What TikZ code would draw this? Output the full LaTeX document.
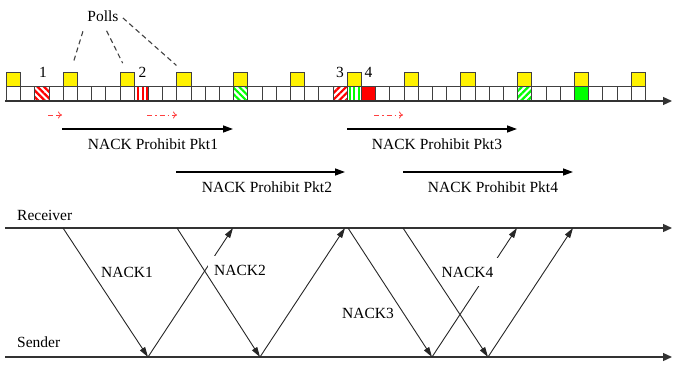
\documentclass[tikz,border=0pt]{standalone}
\usepackage{fontspec}
\setmainfont{Liberation Serif}
\usetikzlibrary{arrows.meta,patterns.meta}

\tikzset{
  slot/.style={draw=black!75, line width=0.9pt, minimum width=14.2pt, minimum height=14pt, inner sep=0pt, anchor=south west},
  pollbox/.style={slot, fill=yellow},
  slotmark/.style={slot, anchor=center},
  hatch/.style n args={2}{pattern={Lines[angle=#1,distance=4.6pt,line width=2.2pt]}, pattern color=#2},
  axis/.style={draw=black!80, line width=1.3pt, -{Triangle[length=9pt,width=8pt]}},
  msg/.style={draw=black!85, line width=0.9pt, -{Triangle[length=10pt,width=6pt]}},
  window/.style={line width=1.3pt, -{Triangle[length=10pt,width=7pt]}},
  timer/.style={draw=red!75, line width=0.8pt, -{To[length=4pt,width=7pt]}},
  txt/.style={font=\fontsize{15.5}{18}\selectfont, inner sep=2pt},
  nack/.style={txt, fill=white, inner xsep=6pt, inner ysep=9pt},
  poll line/.style={draw=black!75, line width=1.1pt, dash pattern=on 5pt off 3.5pt, shorten <=8pt, shorten >=10pt},
}

\begin{document}
\begin{tikzpicture}[x=1pt,y=1pt]
	%%%%% START %%%%%
	\useasboundingbox (0,0) rectangle (673,368);
	
	% slot row
	\foreach \i in {0,...,44}
		\node[slot] (c\i) at ({6+14.2*\i},267) {};
	\node[slotmark, hatch={-45}{red}] at (c2) {};
	\node[slotmark, hatch={90}{red}] at (c9) {};
	\node[slotmark, hatch={-45}{green}] at (c16) {};
	\node[slotmark, hatch={45}{red}] at (c23) {};
	\node[slotmark, hatch={90}{green}] at (c24) {};
	\node[slotmark, fill=red] at (c25) {};
	\node[slotmark, hatch={45}{green}] at (c36) {};
	\node[slotmark, fill=green] at (c40) {};
	
	\foreach \j in {0,...,11}
		\node[pollbox] (p\j) at ({6+56.8*\j},281) {};
	
	\coordinate (t0) at (5,267);
	\coordinate (t1) at (672,267);
	\draw[axis] (t0) -- (t1);
	
	\node[txt] (n1) at (43,295.5) {1};
	\node[txt] (n2) at (142.5,295.5) {2};
	\node[txt] (n3) at (340,295.5) {3};
	\node[txt] (n4) at (368.5,295.5) {4};
	
	% polls
	\node[txt] (polls) at (103,352) {Polls};
	\draw[poll line] (polls.south west) -- (p1.north);
	\draw[poll line] (polls.south) -- (p2.north);
	\draw[poll line, shorten <=3pt] (polls.east) -- (p3.north);
	
	% timers
	\coordinate (d1a) at (48,253);
	\coordinate (d1b) at (62,253);
	\coordinate (d2a) at (147,253);
	\coordinate (d2b) at (177,253);
	\coordinate (d3a) at (374,253);
	\coordinate (d3b) at (403,253);
	\draw[timer, dash pattern=on 5pt off 3pt] (d1a) -- (d1b);
	\draw[timer, dash pattern=on 5pt off 3pt on 1.5pt off 3pt] (d2a) -- (d2b);
	\draw[timer, dash pattern=on 5pt off 3pt on 1.5pt off 3pt] (d3a) -- (d3b);
	
	% prohibit windows
	\coordinate (w1a) at (62,239);
	\coordinate (w1b) at (233,239);
	\coordinate (w2a) at (176,196);
	\coordinate (w2b) at (345,196);
	\coordinate (w3a) at (347,239);
	\coordinate (w3b) at (517,239);
	\coordinate (w4a) at (403,196);
	\coordinate (w4b) at (573,196);
	\draw[window] (w1a) -- (w1b);
	\draw[window] (w2a) -- (w2b);
	\draw[window] (w3a) -- (w3b);
	\draw[window] (w4a) -- (w4b);
	\node[txt] (w1) at (153,224) {NACK Prohibit Pkt1};
	\node[txt] (w2) at (267,181) {NACK Prohibit Pkt2};
	\node[txt] (w3) at (437,224) {NACK Prohibit Pkt3};
	\node[txt] (w4) at (493,181) {NACK Prohibit Pkt4};
	
	% receiver and sender
	\coordinate (rx0) at (5,140);
	\coordinate (rx1) at (672,140);
	\coordinate (sx0) at (5,11);
	\coordinate (sx1) at (672,11);
	\draw[axis] (rx0) -- (rx1);
	\draw[axis] (sx0) -- (sx1);
	\node[txt, anchor=west, inner sep=0pt] (rcv) at (17,153) {Receiver};
	\node[txt, anchor=west, inner sep=0pt] (snd) at (17,26) {Sender};
	
	\coordinate (ra) at (63,140);
	\coordinate (rb) at (233,140);
	\coordinate (rc) at (177,140);
	\coordinate (rd) at (345,140);
	\coordinate (re) at (348,140);
	\coordinate (rf) at (517,140);
	\coordinate (rg) at (403,140);
	\coordinate (rh) at (573,140);
	\coordinate (sa) at (148,11);
	\coordinate (sc) at (260,11);
	\coordinate (se) at (432,11);
	\coordinate (sg) at (488,11);
	
	\draw[msg] (sa) -- (rb);
	\draw[msg] (se) -- (rf);
	
	\node[nack] (k1) at (127,96) {NACK1};
	\node[nack] (k2) at (240,98) {NACK2};
	\node[nack] (k3) at (368,55) {NACK3};
	\node[nack] (k4) at (467.5,96) {NACK4};
	
	\draw[msg] (ra) -- (sa);
	\draw[msg] (rc) -- (sc);
	\draw[msg] (sc) -- (rd);
	\draw[msg] (re) -- (se);
	\draw[msg] (rg) -- (sg);
	\draw[msg] (sg) -- (rh);
	
	%%%%% END %%%%%
\end{tikzpicture}
\end{document}
